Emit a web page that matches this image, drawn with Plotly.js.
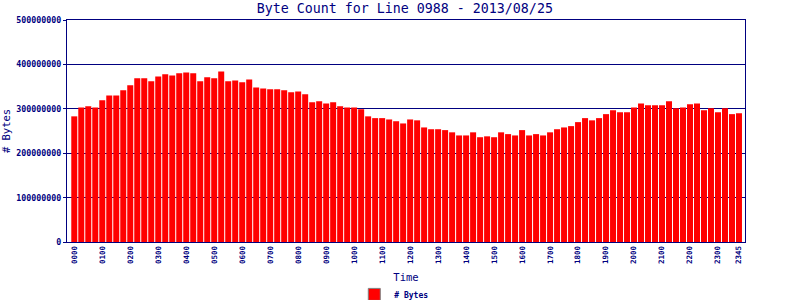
<!DOCTYPE html>
<html>
<head>
<meta charset="utf-8">
<script src="https://cdn.plot.ly/plotly-3.0.1.min.js"></script>
<style>html,body{margin:0;padding:0;background:#fff;}#chart{width:800px;height:300px;}</style>
</head>
<body>
<div id="chart"></div>
<script>
const times = [
"0000","0015","0030","0045","0100","0115","0130","0145","0200","0215","0230","0245",
"0300","0315","0330","0345","0400","0415","0430","0445","0500","0515","0530","0545",
"0600","0615","0630","0645","0700","0715","0730","0745","0800","0815","0830","0845",
"0900","0915","0930","0945","1000","1015","1030","1045","1100","1115","1130","1145",
"1200","1215","1230","1245","1300","1315","1330","1345","1400","1415","1430","1445",
"1500","1515","1530","1545","1600","1615","1630","1645","1700","1715","1730","1745",
"1800","1815","1830","1845","1900","1915","1930","1945","2000","2015","2030","2045",
"2100","2115","2130","2145","2200","2215","2230","2245","2300","2315","2330","2345"];

const byteCounts = [
283e6,303e6,306e6,303e6,319e6,330e6,330e6,342e6,353e6,369e6,369e6,362e6,
373e6,378e6,375e6,380e6,382e6,380e6,362e6,371e6,369e6,384e6,362e6,364e6,
360e6,366e6,348e6,346e6,344e6,344e6,342e6,337e6,339e6,333e6,315e6,317e6,
312e6,315e6,306e6,303e6,303e6,299e6,283e6,279e6,279e6,276e6,272e6,267e6,
276e6,274e6,258e6,254e6,254e6,252e6,247e6,240e6,240e6,247e6,236e6,238e6,
236e6,247e6,243e6,240e6,252e6,240e6,243e6,240e6,247e6,254e6,258e6,261e6,
270e6,279e6,274e6,279e6,288e6,297e6,292e6,292e6,303e6,312e6,308e6,308e6,
308e6,317e6,301e6,303e6,310e6,312e6,297e6,301e6,292e6,301e6,288e6,290e6];

const tickLabels = ["0000","0100","0200","0300","0400","0500","0600","0700","0800","0900",
"1000","1100","1200","1300","1400","1500","1600","1700","1800","1900","2000","2100","2200","2300","2345"];

const yTicks = [0,100000000,200000000,300000000,400000000,500000000];
const seriesName = "# Bytes";

const navy = "#000080";
const mono = "DejaVu Sans Mono, Liberation Mono, monospace";

const traces = [
  {type:"bar", x:times, y:byteCounts, name:seriesName, showlegend:false,
   marker:{color:"#ff0000", line:{width:0}}},
  {type:"bar", x:[times[0]], y:[null], name:seriesName, showlegend:true,
   marker:{color:"#ff0000", line:{color:"#808080", width:1}}}
];

const layout = {
  width:800, height:300,
  margin:{l:67, r:55, t:20, b:58, autoexpand:false},
  paper_bgcolor:"#fff", plot_bgcolor:"#fff",
  bargap:0.143,
  barmode:"overlay",
  title:{text:"Byte Count for Line 0988 - 2013/08/25", x:0.506, xanchor:"center", y:0.972, yanchor:"middle",
         font:{family:mono, size:13.3, color:navy}},
  xaxis:{type:"category", range:[-1.04, 95.86], tickmode:"array", tickvals:tickLabels, ticktext:tickLabels,
         automargin:false,
         tickangle:-90, tickfont:{family:mono, size:7.5, color:navy, weight:"bold"},
         showgrid:false, showline:true, linecolor:navy, linewidth:1, mirror:true, ticks:"", ticklen:0,
         title:{text:"Time", font:{family:mono, size:10.5, color:navy}, standoff:10}},
  yaxis:{range:[0,500000000], tickmode:"array", tickvals:yTicks, ticktext:yTicks.map(String),
         automargin:false,
         tickfont:{family:mono, size:8.3, color:navy, weight:"bold"},
         showgrid:true, gridcolor:navy, gridwidth:1, zeroline:false,
         showline:true, linecolor:navy, linewidth:1, mirror:true, ticks:"outside", ticklen:3, tickcolor:navy,
         title:{text:"# Bytes", font:{family:mono, size:10.5, color:navy}, standoff:4}},
  showlegend:true,
  legend:{orientation:"h", x:0.482, xanchor:"center", y:-0.236, yanchor:"middle",
          font:{family:mono, size:8, color:navy, weight:"bold"}, bgcolor:"rgba(0,0,0,0)"}
};

Plotly.newPlot("chart", traces, layout, {displayModeBar:false, staticPlot:true});
</script>
</body>
</html>
